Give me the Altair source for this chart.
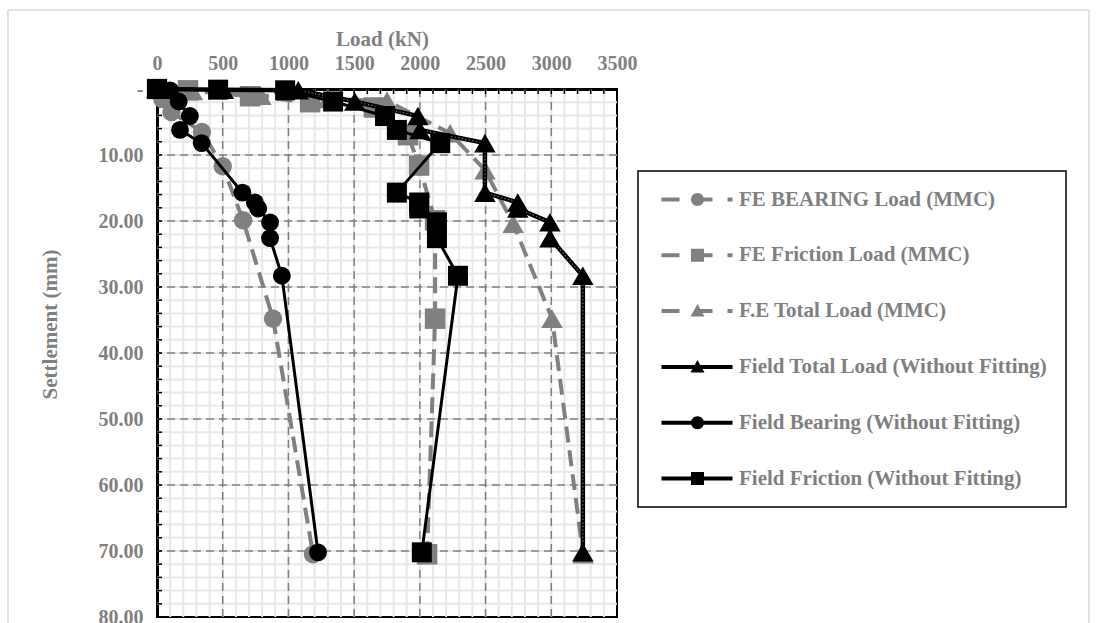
import altair as alt
import pandas as pd

# ---------------- data ----------------
# Field measurements (Without Fitting)
field_settlement = [0, 0.1, 0.2, 1.9, 4.1, 6.2, 8.2, 15.7, 17.2, 18.1, 20.2, 22.6, 28.3, 70.2]
field_bearing = [0, 40, 100, 165, 250, 175, 340, 650, 745, 770, 860, 860, 950, 1225]
field_friction = [0, 465, 975, 1340, 1735, 1825, 2155, 1825, 1995, 1995, 2130, 2130, 2290, 2015]
field_total = [0, 505, 1075, 1505, 1985, 2000, 2495, 2495, 2745, 2745, 2990, 2990, 3240, 3240]

# Finite-element (MMC) results
fe_bearing_settlement = [0, 1.5, 3.5, 6.5, 11.7, 19.9, 34.8, 70.5]
fe_bearing = [0, 40, 110, 342, 500, 655, 883, 1187]
fe_friction_settlement = [0, 0.2, 1.1, 2.0, 2.8, 7.0, 11.6, 19.9, 34.8, 70.5]
fe_friction = [0, 236, 708, 1165, 1650, 1910, 1994, 2116, 2116, 2055]
fe_total_settlement = [0, 0.3, 1.0, 1.5, 1.8, 6.7, 12.3, 20.4, 34.8, 70.5]
fe_total = [0, 270, 790, 1300, 1750, 2230, 2496, 2710, 3006, 3242]

series_names = [
    "FE BEARING Load (MMC)",
    "FE Friction Load (MMC)",
    "F.E Total Load (MMC)",
    "Field Total Load (Without Fitting)",
    "Field Bearing (Without Fitting)",
    "Field Friction (Without Fitting)",
]

x_ticks = [0, 500, 1000, 1500, 2000, 2500, 3000, 3500]
y_ticks = [0, 10, 20, 30, 40, 50, 60, 70, 80]
x_major_grid = [500, 1000, 1500, 2000, 2500, 3000]
y_major_grid = [10, 20, 30, 40, 50, 60, 70]
x_minor = list(range(100, 3500, 100))
y_minor = list(range(2, 80, 2))

# ---------------- style ----------------
GRAY = "#808080"
FONT = "Liberation Serif"
W, H = 460, 528

# legend key drawings (custom symbol paths, 1 unit = 5 px)
def rect(x0, x1, t=0.4):
    return f"M{x0} {-t} L{x1} {-t} L{x1} {t} L{x0} {t} Z "

CIRCLE = "M4.9 0 A1.3 1.3 0 1 1 7.5 0 A1.3 1.3 0 1 1 4.9 0 Z "
SQUARE = "M4.9 -1.3 L7.5 -1.3 L7.5 1.3 L4.9 1.3 Z "
TRIANGLE = "M6.2 -1.4 L7.6 1.1 L4.8 1.1 Z "
fe_key = rect(-1, 2.6) + "{m}" + rect(6.2, 9.2) + rect(12.2, 13.2)
field_key = rect(-1, 13.2) + "{m}"
legend_paths = [
    fe_key.format(m=CIRCLE),
    fe_key.format(m=SQUARE),
    fe_key.format(m=TRIANGLE),
    field_key.format(m=TRIANGLE),
    field_key.format(m=CIRCLE),
    field_key.format(m=SQUARE),
]
legend_colors = [GRAY, GRAY, GRAY, "black", "black", "black"]

x_axis = alt.Axis(
    orient="top", values=x_ticks, format="d", title="Load (kN)", grid=False, ticks=False, tickSize=0,
    labelFont=FONT, labelFontSize=20, labelFontWeight="bold", labelColor=GRAY,
    labelPadding=26, labelBaseline="middle", labelFlush=False, labelOverlap=False,
    titleFont=FONT, titleFontSize=21, titleFontWeight="bold", titleColor=GRAY,
    titleX=225, titleY=-50, titleBaseline="middle",
    domainColor="black", domainWidth=3,
)
y_axis = alt.Axis(
    orient="left", values=y_ticks,
    labelExpr="datum.value == 0 ? '-\u00a0\u00a0\u00a0' : format(datum.value, '.2f')",
    grid=False, ticks=False, tickSize=0,
    labelFont=FONT, labelFontSize=20, labelFontWeight="bold", labelColor=GRAY,
    labelPadding=14, labelFlush=False, labelOverlap=False,
    title="Settlement (mm)", titleFont=FONT, titleFontSize=21, titleFontWeight="bold",
    titleColor=GRAY, titleX=-107, titleY=235, titleAngle=270, titleBaseline="middle",
    titleAlign="center",
    domainColor="black", domainWidth=3,
)
x_scale = alt.Scale(domain=[0, 3500], nice=False, zero=False)
y_scale = alt.Scale(domain=[0, 80], nice=False, zero=False, reverse=True)
X = alt.X("load:Q", scale=x_scale, axis=x_axis)
Y = alt.Y("settlement:Q", scale=y_scale, axis=y_axis)


def frame(loads, setts):
    return pd.DataFrame({"load": loads, "settlement": setts, "idx": list(range(len(loads)))})


layers = []

# minor grid
layers.append(alt.Chart(pd.DataFrame({"load": x_minor})).mark_rule(color="#e8e8e8", strokeWidth=2).encode(x=X))
layers.append(alt.Chart(pd.DataFrame({"settlement": y_minor})).mark_rule(color="#e8e8e8", strokeWidth=2).encode(y=Y))
# major grid (dashed)
layers.append(alt.Chart(pd.DataFrame({"load": x_major_grid})).mark_rule(color=GRAY, strokeWidth=1.5, strokeDash=[8, 5]).encode(x=X))
layers.append(alt.Chart(pd.DataFrame({"settlement": y_major_grid})).mark_rule(color=GRAY, strokeWidth=1.5, strokeDash=[8, 5]).encode(y=Y))
# inside minor tick marks
layers.append(alt.Chart(pd.DataFrame({"load": x_minor})).mark_rule(color="black", strokeWidth=1.5).encode(x=X, y=alt.value(0), y2=alt.value(5)))
layers.append(alt.Chart(pd.DataFrame({"settlement": y_minor})).mark_rule(color="black", strokeWidth=1.5).encode(y=Y, x=alt.value(0), x2=alt.value(5)))

# outer chart-area border (light gray)
border_color = "#d9d9d9"
layers.append(alt.Chart(pd.DataFrame({"k": [0]})).mark_rule(color=border_color, strokeWidth=1.5).encode(x=alt.value(-149), x2=alt.value(932), y=alt.value(-79)))
layers.append(alt.Chart(pd.DataFrame({"k": [0]})).mark_rule(color=border_color, strokeWidth=1.5).encode(x=alt.value(-149), y=alt.value(-79), y2=alt.value(540)))
layers.append(alt.Chart(pd.DataFrame({"k": [0]})).mark_rule(color=border_color, strokeWidth=1.5).encode(x=alt.value(932), y=alt.value(-79), y2=alt.value(540)))

series = [
    (frame(fe_bearing, fe_bearing_settlement), GRAY, [16, 8], 4, "circle", 340),
    (frame(fe_friction, fe_friction_settlement), GRAY, [16, 8], 4, "square", 420),
    (frame(fe_total, fe_total_settlement), GRAY, [16, 8], 4, "triangle-up", 460),
    (frame(field_total, field_settlement), "black", None, 4.5, "triangle-up", 460),
    (frame(field_bearing, field_settlement), "black", None, 3, "circle", 320),
    (frame(field_friction, field_settlement), "black", None, 3, "square", 400),
]
for i, (df, col, dash, sw, shp, size) in enumerate(series):
    line_kw = dict(color=col, strokeWidth=sw)
    if dash:
        line_kw["strokeDash"] = dash
    layers.append(alt.Chart(df).mark_line(**line_kw).encode(x=X, y=Y, order="idx:Q"))
    if i == 3:
        layers.append(alt.Chart(df).mark_line(color="white", strokeWidth=1.2, strokeDash=[1.2, 2.4], opacity=0.5).encode(x=X, y=Y, order="idx:Q"))
    layers.append(alt.Chart(df).mark_point(filled=True, shape=shp, size=size, color=col, opacity=1).encode(x=X, y=Y))

# legend carrier (invisible points, legend drawn natively)
legend_df = pd.DataFrame({"series": series_names, "load": [0] * 6, "settlement": [0] * 6})
leg = alt.Legend(title=None, orient="none", legendX=481, legendY=82)
layers.append(
    alt.Chart(legend_df).mark_point(filled=True, opacity=0).encode(
        x=X, y=Y,
        color=alt.Color("series:N", scale=alt.Scale(domain=series_names, range=legend_colors), legend=leg),
        shape=alt.Shape("series:N", scale=alt.Scale(domain=series_names, range=legend_paths), legend=leg),
    )
)

chart = alt.layer(*layers).properties(
    width=W, height=H,
    autosize=alt.AutoSizeParams(type="none"),
    padding={"left": 157, "top": 89, "right": 480, "bottom": 6},
    background="white",
).configure_view(
    stroke="black", strokeWidth=2
).configure_legend(
    padding=18, strokeColor="black", strokeWidth=1.5, fillColor="white",
    symbolSize=100, symbolStrokeWidth=0, symbolOpacity=1,
    labelFont=FONT, labelFontSize=21, labelFontWeight="bold", labelColor=GRAY,
    labelOffset=62, rowPadding=33.8, labelLimit=600,
)

chart.save("out.html", embed_options={"renderer": "svg", "actions": False})
